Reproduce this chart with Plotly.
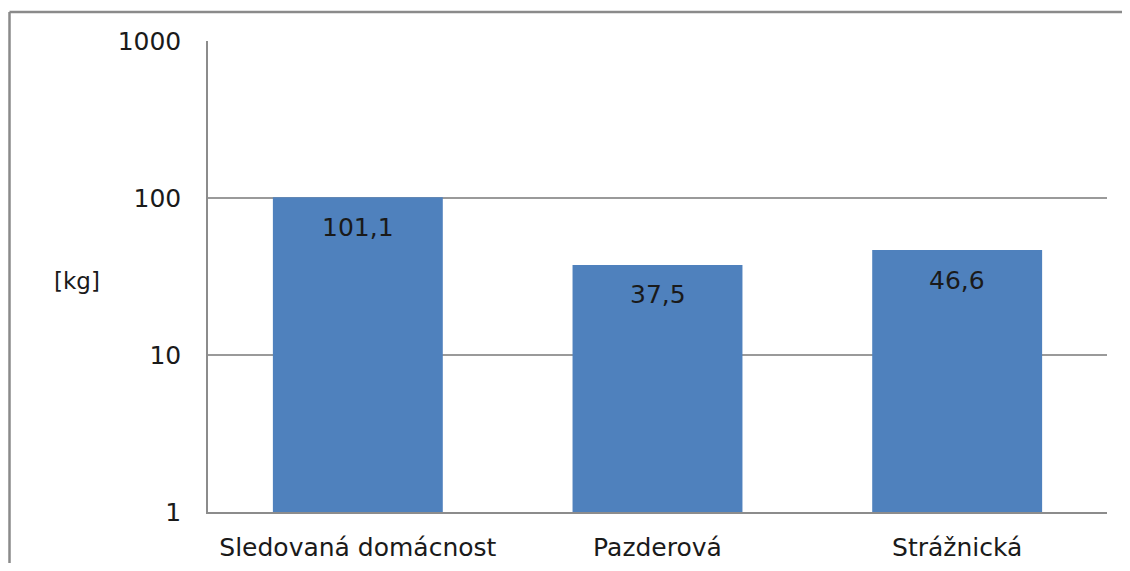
import math
import plotly.graph_objs as go

kategorie = ['Sledovaná domácnost', 'Pazderová', 'Strážnická']
hodnoty = [101.1, 37.5, 46.6]
popisky = ['101,1', '37,5', '46,6']
y_ticky = [1, 10, 100, 1000]

pismo = 'DejaVu Sans'
barva_textu = '#1a1a1a'
barva_ramu = '#8a8a8a'

trace1 = go.Bar(
    x=kategorie,
    y=hodnoty,
    marker=dict(color='#4F81BD', line=dict(width=0)),
    hoverinfo='x+y')

# popisky hodnot uvnitr sloupcu, kousek pod horni hranou
anotace = []
for k, v, p in zip(kategorie, hodnoty, popisky):
    anotace.append(dict(
        x=k, y=math.log10(v), xref='x', yref='y',
        text=p, showarrow=False, yshift=-30,
        font=dict(family=pismo, size=25, color=barva_textu)))

anotace.append(dict(
    x=-0.146, y=0.49, xref='paper', yref='paper',
    xanchor='center', yanchor='middle',
    text='[kg]', showarrow=False,
    font=dict(family=pismo, size=23, color=barva_textu)))

# stranka ma vychozi okraj 8 px, graf se musi vejit do okna bez posuvniku
layout = go.Layout(
    width=1114, height=555,
    margin=dict(l=200, r=15, t=33, b=51),
    paper_bgcolor='white',
    plot_bgcolor='white',
    showlegend=False,
    bargap=0.433,
    font=dict(family=pismo, size=25, color=barva_textu),
    xaxis=dict(
        automargin=False,
        showline=True, linecolor='#8c8c8c', linewidth=1.5,
        showgrid=False, ticks='', ticklabelstandoff=12,
        tickfont=dict(family=pismo, size=25, color=barva_textu)),
    yaxis=dict(
        automargin=False,
        type='log', range=[0, 3],
        tickvals=y_ticky, ticktext=[str(t) for t in y_ticky],
        showline=True, linecolor='#8c8c8c', linewidth=1.5,
        showgrid=True, gridcolor='#9a9a9a', gridwidth=1.5,
        ticks='', ticklabelstandoff=20,
        tickfont=dict(family=pismo, size=25, color=barva_textu)),
    annotations=anotace,
    # ram grafu - viditelna je jen horni a leva strana
    shapes=[
        dict(type='line', xref='paper', yref='paper',
             x0=-0.2208, x1=1.2, y0=1.0616, y1=1.0616,
             line=dict(color=barva_ramu, width=2.5)),
        dict(type='line', xref='paper', yref='paper',
             x0=-0.2208, x1=-0.2208, y0=-0.3, y1=1.0616,
             line=dict(color=barva_ramu, width=2.5))])

fig = go.Figure(data=[trace1], layout=layout)
fig.write_html('out.html', config={'displayModeBar': False})
